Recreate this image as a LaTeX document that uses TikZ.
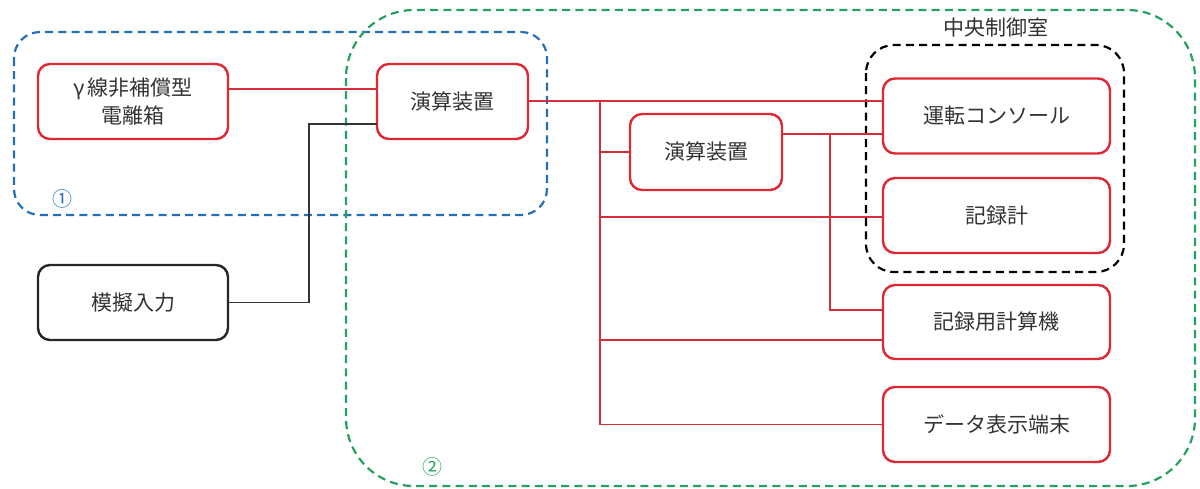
\documentclass[tikz,border=0pt]{standalone}
\usepackage{fontspec}
\newfontfamily\jp{Noto Sans CJK JP}
\definecolor{boxred}{RGB}{222,40,52}
\definecolor{linered}{RGB}{214,45,58}
\definecolor{grpblue}{RGB}{36,112,182}
\definecolor{grpgreen}{RGB}{38,160,96}
\definecolor{txt}{RGB}{51,51,51}
\tikzset{
  unit/.style={draw=boxred, line width=1.2pt, rounded corners=6pt, minimum width=95pt, minimum height=37.5pt, inner sep=2pt, font=\jp\fontsize{10.5}{14}\selectfont, text=txt, align=center, outer sep=0pt},
  blackunit/.style={unit, draw=black!85},
  conn/.style={draw=linered, line width=0.7pt},
  kconn/.style={draw=black!80, line width=0.7pt},
  grp/.style={line width=1.1pt, dash pattern=on 4pt off 2.6pt},
}
\begin{document}
\begin{tikzpicture}[x=0.5pt,y=-0.5pt]
\useasboundingbox (0,0) rectangle (1200,488);
% groups
\draw[grp, draw=grpblue, rounded corners=13pt] (14,32) rectangle (547,215);
\draw[grp, draw=grpgreen, rounded corners=34pt] (346,10) rectangle (1195,486);
\draw[grp, draw=black, rounded corners=14pt] (866,45) rectangle (1124,272);
\node[font=\jp\fontsize{10.5}{14}\selectfont, text=txt] (ccr) at (996,28) {中央制御室};
\node[font=\jp\fontsize{10}{12}\selectfont, text=grpblue] (n1) at (62,199) {①};
\node[font=\jp\fontsize{10}{12}\selectfont, text=grpgreen] (n2) at (432,467) {②};
% units
\node[unit] (gam) at (133,101.5) {γ\,線非補償型\\電離箱};
\node[unit, minimum width=75.5pt] (calc1) at (452.5,101.5) {演算装置};
\node[blackunit] (sim) at (133,302.5) {模擬入力};
\node[unit, minimum width=76pt, minimum height=38pt] (calc2) at (706,152) {演算装置};
\node[unit, minimum width=113.5pt] (cons) at (996.5,116) {運転コンソール};
\node[unit, minimum width=113.5pt] (rec) at (996.5,215.5) {記録計};
\node[unit, minimum width=113.5pt, minimum height=37pt] (rcomp) at (996.5,322) {記録用計算機};
\node[unit, minimum width=113.5pt] (disp) at (996.5,424.5) {データ表示端末};
% connectors
\coordinate (g1) at ([yshift=6.25pt]gam.east);
\draw[conn] (g1) -- (calc1.west |- g1);
\coordinate (k) at ([yshift=-11.25pt]calc1.west);
\coordinate (kx) at (309,0);
\draw[kconn] (sim.east) -- (kx |- sim.east) -- (kx |- k) -- (k);
\coordinate (t) at ([yshift=7.5pt]cons.west);
\draw[conn] (calc1.east |- t) -- (t);
\coordinate (bx) at (600,0);
\draw[conn] (bx |- t) -- (bx |- disp.west) -- (disp.west);
\draw[conn] (bx |- calc2.west) -- (calc2.west);
\coordinate (rr) at ([yshift=-0.75pt]rec.west);
\draw[conn] (bx |- rr) -- (rr);
\coordinate (r2) at ([yshift=-9pt]rcomp.west);
\draw[conn] (bx |- r2) -- (r2);
\coordinate (c2) at ([yshift=-9pt]cons.west);
\draw[conn] (calc2.east |- c2) -- (c2);
\coordinate (vx) at (830,0);
\coordinate (r1) at ([yshift=6pt]rcomp.west);
\draw[conn] (vx |- c2) -- (vx |- r1) -- (r1);
\end{tikzpicture}
\end{document}
